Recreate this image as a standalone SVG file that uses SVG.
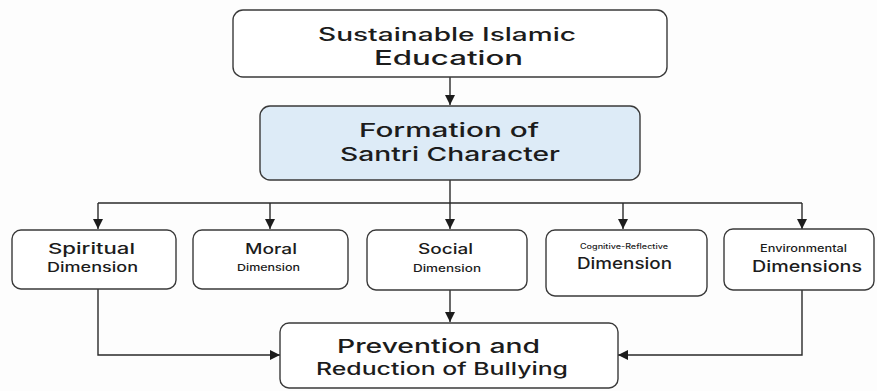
<svg xmlns="http://www.w3.org/2000/svg" width="877" height="391" viewBox="0 0 877 391">
  <defs>
    <marker id="arrow" viewBox="0 0 10 10" refX="10" refY="5" markerWidth="10" markerHeight="10" markerUnits="userSpaceOnUse" orient="auto">
      <path d="M0,0 L10,5 L0,10 Z" fill="#1c1c1c"/>
    </marker>
    <style>
      .box { fill: #ffffff; stroke: #3a3a3a; stroke-width: 1.4; }
      .hub { fill: #ddebf7; stroke: #3a3a3a; stroke-width: 1.4; }
      .link { fill: none; stroke: #2a2a2a; stroke-width: 1.4; }
      text { font-family: "Inter", "Noto Sans", "Liberation Sans", sans-serif; fill: #1c1c1c; text-anchor: middle; font-weight: 500; }
    </style>
  </defs>
  <rect width="877" height="391" fill="#fdfdfd"/>

  <!-- connectors -->
  <g id="connectors">
    <line class="link" x1="450" y1="77" x2="450" y2="105" marker-end="url(#arrow)"/>
    <line class="link" x1="450" y1="180" x2="450" y2="229" marker-end="url(#arrow)"/>
    <line class="link" x1="98" y1="203" x2="802" y2="203"/>
    <line class="link" x1="98" y1="203" x2="98" y2="229" marker-end="url(#arrow)"/>
    <line class="link" x1="270" y1="203" x2="270" y2="229" marker-end="url(#arrow)"/>
    <line class="link" x1="623" y1="203" x2="623" y2="229" marker-end="url(#arrow)"/>
    <line class="link" x1="802" y1="203" x2="802" y2="229" marker-end="url(#arrow)"/>
    <line class="link" x1="450" y1="290" x2="450" y2="322" marker-end="url(#arrow)"/>
    <polyline class="link" points="98,289 98,355 280,355" marker-end="url(#arrow)"/>
    <polyline class="link" points="802,290 802,355 618,355" marker-end="url(#arrow)"/>
  </g>

  <g id="sustainable-education">
    <rect class="box" x="233" y="10" width="434" height="67" rx="10"/>
    <text x="447" y="41" font-size="18" textLength="258" lengthAdjust="spacingAndGlyphs">Sustainable Islamic</text>
    <text x="448.5" y="65" font-size="20" textLength="149" lengthAdjust="spacingAndGlyphs">Education</text>
  </g>

  <g id="santri-character">
    <rect class="hub" x="260" y="106" width="380" height="74" rx="10"/>
    <text x="449" y="137" font-size="19" textLength="180" lengthAdjust="spacingAndGlyphs">Formation of</text>
    <text x="450" y="161" font-size="19" textLength="220" lengthAdjust="spacingAndGlyphs">Santri Character</text>
  </g>

  <g id="spiritual">
    <rect class="box" x="12" y="230" width="164" height="59" rx="9"/>
    <text x="91.5" y="254" font-size="15" textLength="87" lengthAdjust="spacingAndGlyphs">Spiritual</text>
    <text x="92.5" y="272" font-size="13" textLength="91" lengthAdjust="spacingAndGlyphs">Dimension</text>
  </g>

  <g id="moral">
    <rect class="box" x="193" y="230" width="155" height="59" rx="9"/>
    <text x="271" y="254" font-size="14" textLength="52" lengthAdjust="spacingAndGlyphs">Moral</text>
    <text x="268.5" y="271" font-size="9.5" textLength="63" lengthAdjust="spacingAndGlyphs">Dimension</text>
  </g>

  <g id="social">
    <rect class="box" x="367" y="230" width="160" height="60" rx="9"/>
    <text x="445.5" y="254" font-size="14" textLength="55" lengthAdjust="spacingAndGlyphs">Social</text>
    <text x="447" y="272" font-size="10" textLength="68" lengthAdjust="spacingAndGlyphs">Dimension</text>
  </g>

  <g id="cognitive-reflective">
    <rect class="box" x="546" y="230" width="161" height="66" rx="9"/>
    <text x="624" y="249" font-size="7" textLength="88" lengthAdjust="spacingAndGlyphs">Cognitive-Reflective</text>
    <text x="624.5" y="269" font-size="16" textLength="95" lengthAdjust="spacingAndGlyphs">Dimension</text>
  </g>

  <g id="environmental">
    <rect class="box" x="724" y="229" width="150" height="61" rx="9"/>
    <text x="803.5" y="252" font-size="10" textLength="87" lengthAdjust="spacingAndGlyphs">Environmental</text>
    <text x="807" y="272" font-size="16" textLength="110" lengthAdjust="spacingAndGlyphs">Dimensions</text>
  </g>

  <g id="bullying-prevention">
    <rect class="box" x="280" y="323" width="338" height="65" rx="9"/>
    <text x="438.5" y="353" font-size="19" textLength="203" lengthAdjust="spacingAndGlyphs">Prevention and</text>
    <text x="442" y="375" font-size="17" textLength="252" lengthAdjust="spacingAndGlyphs">Reduction of Bullying</text>
  </g>
</svg>
